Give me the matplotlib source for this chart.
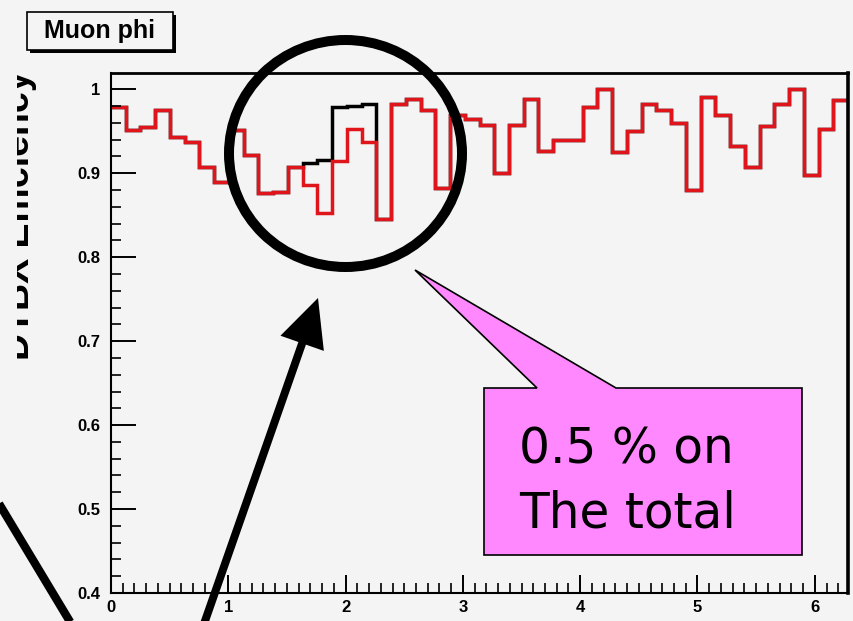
"""Muon phi efficiency histogram with slide annotations."""

import matplotlib
matplotlib.use("agg")

import numpy as np
import matplotlib.pyplot as plt
from matplotlib.patches import Ellipse, FancyArrow, Polygon, Rectangle
from matplotlib.ticker import MultipleLocator, FuncFormatter

# efficiency per phi bin (50 bins over 0..2pi)
eff_all = [0.979, 0.952, 0.955, 0.975, 0.943, 0.937, 0.907, 0.889, 0.951, 0.922,
           0.876, 0.878, 0.907, 0.886, 0.853, 0.914, 0.953, 0.937, 0.846, 0.983,
           0.988, 0.975, 0.882, 0.969, 0.965, 0.957, 0.900, 0.957, 0.989, 0.927,
           0.939, 0.939, 0.979, 1.000, 0.925, 0.950, 0.982, 0.975, 0.960, 0.880,
           0.991, 0.969, 0.933, 0.908, 0.956, 0.982, 1.000, 0.898, 0.953, 0.987]
eff_ref = [0.979, 0.952, 0.955, 0.975, 0.943, 0.937, 0.907, 0.889, 0.951, 0.922,
           0.876, 0.878, 0.907, 0.912, 0.916, 0.979, 0.980, 0.983, 0.846, 0.983,
           0.988, 0.975, 0.882, 0.969, 0.965, 0.957, 0.900, 0.957, 0.989, 0.927,
           0.939, 0.939, 0.979, 1.000, 0.925, 0.950, 0.982, 0.975, 0.960, 0.880,
           0.991, 0.969, 0.933, 0.908, 0.956, 0.982, 1.000, 0.898, 0.953, 0.987]
n_bins = 50
phi_max = 2 * np.pi
y_ticks = [0.4, 0.5, 0.6, 0.7, 0.8, 0.9, 1.0]
x_ticks = [0, 1, 2, 3, 4, 5, 6]

W, H = 854, 621
BG = "#f4f4f4"
RED = "#e0151b"

fig = plt.figure(figsize=(W / 100, H / 100), dpi=100, facecolor=BG)

# ── histogram frame ───────────────────────────────────────────────────
left, right, top, bottom = 111, 848, 73, 593
ax = fig.add_axes([left / W, 1 - bottom / H, (right - left) / W, (bottom - top) / H])
ax.set_facecolor(BG)

edges = np.linspace(0, phi_max, n_bins + 1)
ax.stairs(eff_ref, edges, color="black", lw=2.5, baseline=None)
ax.stairs(eff_all, edges, color=RED, lw=2.5, baseline=None)

ax.set_xlim(0, phi_max)
ax.set_ylim(0.4, 1.0194)
ax.set_xticks(x_ticks)
ax.set_yticks(y_ticks)
ax.xaxis.set_minor_locator(MultipleLocator(0.1))
ax.yaxis.set_minor_locator(MultipleLocator(0.02))
ax.yaxis.set_major_formatter(FuncFormatter(lambda v, _: f"{v:g}"))

ax.tick_params(which="major", direction="in", width=1.4, top=False, right=False)
ax.tick_params(axis="y", which="major", length=18, pad=8)
ax.tick_params(axis="x", which="major", length=13, pad=5)
ax.tick_params(which="minor", direction="in", width=1.2, length=7, top=False, right=False)
for lab in ax.get_xticklabels() + ax.get_yticklabels():
    lab.set_fontfamily("Liberation Sans")
    lab.set_fontweight("bold")
    lab.set_fontsize(12)
for side, lw in [("left", 1.5), ("bottom", 1.5), ("top", 2.0), ("right", 2.6)]:
    ax.spines[side].set_linewidth(lw)
    ax.spines[side].set_color("black")

# ── pixel overlay for the labels and drawn annotations ───────────────
ov = fig.add_axes([0, 0, 1, 1])
ov.set_xlim(0, W)
ov.set_ylim(H, 0)
ov.axis("off")
ov.patch.set_alpha(0)

# title box with shadow
ov.add_patch(Rectangle((30, 15), 146, 38, facecolor="black", edgecolor="none"))
ov.add_patch(Rectangle((27, 12), 146, 38, facecolor=BG, edgecolor="black", lw=1.2))
ov.text(100, 31, "Muon phi", ha="center", va="center", fontsize=18,
        fontweight="bold", family="Liberation Sans")

# y label, partly cut at the left border
ov.text(37, 215, "DTBX Efficiency", rotation=90, ha="right", va="center",
        fontsize=27, fontweight="bold", family="Liberation Sans")
ov.add_patch(Rectangle((0, 60), 17, 320, facecolor=BG, edgecolor="none", zorder=5))

# circle around the discrepancy
ov.add_patch(Ellipse((345.5, 153.5), 233, 227, fill=False, edgecolor="black", lw=7.2))

# arrows
ov.add_patch(FancyArrow(198, 641, 318 - 198, 298 - 641, width=8, head_width=46,
                        head_length=48, length_includes_head=True,
                        facecolor="black", edgecolor="none"))
ov.plot([-5, 75], [497, 630], color="black", lw=6, solid_capstyle="butt")

# pink callout
callout = [(484, 388), (537, 388), (415, 270), (616, 388), (802, 388),
           (802, 555), (484, 555)]
ov.add_patch(Polygon(callout, closed=True, facecolor="#ff88ff", edgecolor="black", lw=1.2))
ov.text(519, 463, "0.5 % on", ha="left", va="baseline", fontsize=35, family="DejaVu Sans")
ov.text(519, 527, "The total", ha="left", va="baseline", fontsize=35, family="DejaVu Sans")

fig.savefig("out.png", dpi=100, facecolor=BG)
